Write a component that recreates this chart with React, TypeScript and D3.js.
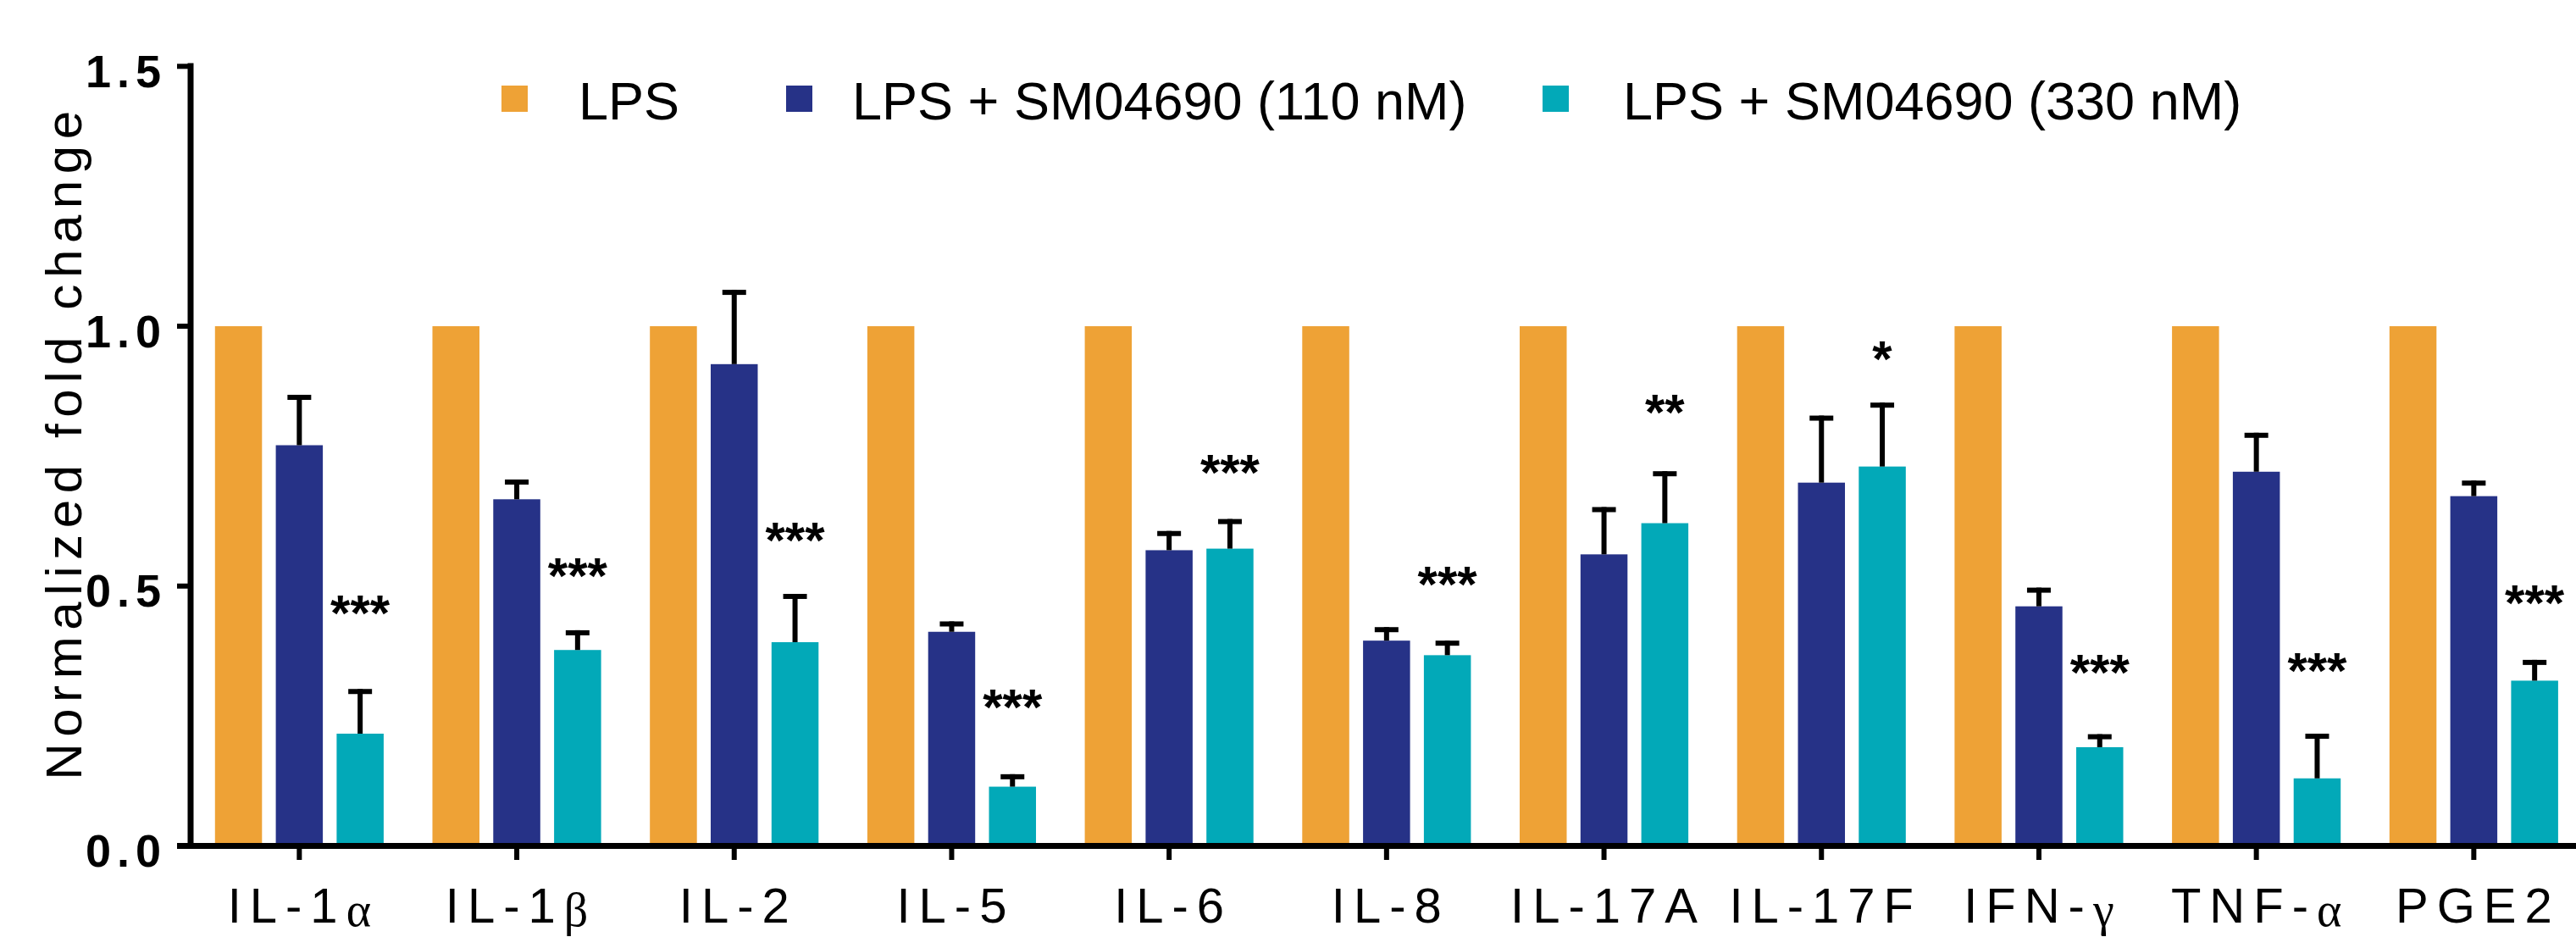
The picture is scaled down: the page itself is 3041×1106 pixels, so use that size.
import React from "react";
import * as d3 from "d3";

// cytokine panel, values
const categories = ["IL-1α", "IL-1β", "IL-2", "IL-5", "IL-6", "IL-8", "IL-17A", "IL-17F", "IFN-γ", "TNF-α", "PGE2"];
const seriesNames = ["LPS", "LPS + SM04690 (110 nM)", "LPS + SM04690 (330 nM)"];
const seriesColors = ["#EEA236", "#263287", "#02A9B8"];

const lpsValues = [1, 1, 1, 1, 1, 1, 1, 1, 1, 1, 1];
const lowValues = [0.771, 0.667, 0.927, 0.412, 0.569, 0.395, 0.561, 0.699, 0.461, 0.72, 0.673];
const lowErr = [0.097, 0.038, 0.143, 0.02, 0.037, 0.026, 0.091, 0.129, 0.036, 0.075, 0.03];
const highValues = [0.216, 0.377, 0.392, 0.114, 0.572, 0.367, 0.621, 0.73, 0.19, 0.13, 0.318];
const highErr = [0.086, 0.038, 0.093, 0.024, 0.057, 0.028, 0.1, 0.123, 0.025, 0.086, 0.04];

// significance marks for the 330 nM group, with the height they sit at
const sigLabels = ["***", "***", "***", "***", "***", "***", "**", "*", "***", "***", "***"];
const sigHeights = [0.47, 0.542, 0.611, 0.289, 0.741, 0.526, 0.857, 0.959, 0.356, 0.359, 0.49];

const yTicks = [0, 0.5, 1.0, 1.5];

const W = 3041, H = 1106;
const x0 = 225, groupStep = 256.7;
const font = "'Liberation Sans', Arial, sans-serif";

export default function App() {
  const x = d3.scaleBand<string>()
    .domain(categories)
    .range([x0, x0 + categories.length * groupStep]);
  const xi = d3.scaleBand<string>()
    .domain(seriesNames)
    .range([0, groupStep])
    .paddingInner(0.227)
    .paddingOuter(0.401);
  const y = d3.scaleLinear().domain([0, 1.5]).range([998.5, 78.3]);

  const values = [lpsValues, lowValues, highValues];
  const errs = [null, lowErr, highErr];
  const bw = xi.bandwidth();

  const legendX = [592, 928, 1821];
  const legendTextX = [683, 1006, 1916];

  return (
    <svg width={W} height={H} style={{ position: "absolute", left: 0, top: 0, background: "#fff" }}>
      {/* bars */}
      {seriesNames.map((s, si) => (
        <g key={s} fill={seriesColors[si]}>
          {categories.map((c, ci) => {
            const v = values[si][ci];
            return (
              <rect key={c} x={(x(c) as number) + (xi(s) as number)} y={y(v)}
                width={bw} height={y(0) - y(v)} />
            );
          })}
        </g>
      ))}

      {/* error bars, upper half only */}
      {seriesNames.map((s, si) => errs[si] && (
        <g key={"e" + s} stroke="#000" strokeWidth={6}>
          {categories.map((c, ci) => {
            const cx = (x(c) as number) + (xi(s) as number) + bw / 2;
            const top = y(values[si][ci] + (errs[si] as number[])[ci]);
            return (
              <g key={c}>
                <line x1={cx} x2={cx} y1={y(values[si][ci])} y2={top} />
                <line x1={cx - 14} x2={cx + 14} y1={top + 3} y2={top + 3} />
              </g>
            );
          })}
        </g>
      ))}

      {/* significance */}
      {categories.map((c, ci) => (
        <text key={"s" + c} x={(x(c) as number) + (xi(seriesNames[2]) as number) + bw / 2}
          y={y(sigHeights[ci]) + 34} textAnchor="middle" fontFamily={font}
          fontWeight="bold" fontSize={60}>{sigLabels[ci]}</text>
      ))}

      {/* y axis */}
      <line x1={225} x2={225} y1={74.5} y2={1002} stroke="#000" strokeWidth={7} />
      {yTicks.map(t => (
        <g key={t}>
          <line x1={209} x2={225} y1={y(t)} y2={y(t)} stroke="#000" strokeWidth={6} />
          <text x={197} y={y(t) + 24.5} textAnchor="end" fontFamily={font} fontWeight="bold"
            fontSize={54} letterSpacing={7}>{t.toFixed(1)}</text>
        </g>
      ))}
      <text transform={`translate(96,522) rotate(-90)`} textAnchor="middle" fontFamily={font}
        fontSize={60} letterSpacing={7.6}>Normalized fold change</text>

      {/* x axis */}
      <line x1={209} x2={W} y1={998.5} y2={998.5} stroke="#000" strokeWidth={7} />
      {categories.map(c => {
        const cx = (x(c) as number) + groupStep / 2;
        const greek = /[αβγ]$/.test(c);
        const main = greek ? c.slice(0, -1) : c;
        return (
          <g key={"x" + c}>
            <line x1={cx} x2={cx} y1={1000} y2={1015} stroke="#000" strokeWidth={6} />
            <text x={cx + 5} y={1089} textAnchor="middle" fontFamily={font} fontSize={58}
              letterSpacing={10}>
              {main}
              {greek && (
                <tspan fontFamily="'Liberation Serif', 'Times New Roman', serif" fontSize={56} dy={4}>
                  {c.slice(-1)}
                </tspan>
              )}
            </text>
          </g>
        );
      })}

      {/* legend */}
      {seriesNames.map((s, si) => (
        <g key={"l" + s}>
          <rect x={legendX[si]} y={101} width={31} height={31} fill={seriesColors[si]} />
          <text x={legendTextX[si]} y={141} fontFamily={font} fontSize={63}>{s}</text>
        </g>
      ))}
    </svg>
  );
}
